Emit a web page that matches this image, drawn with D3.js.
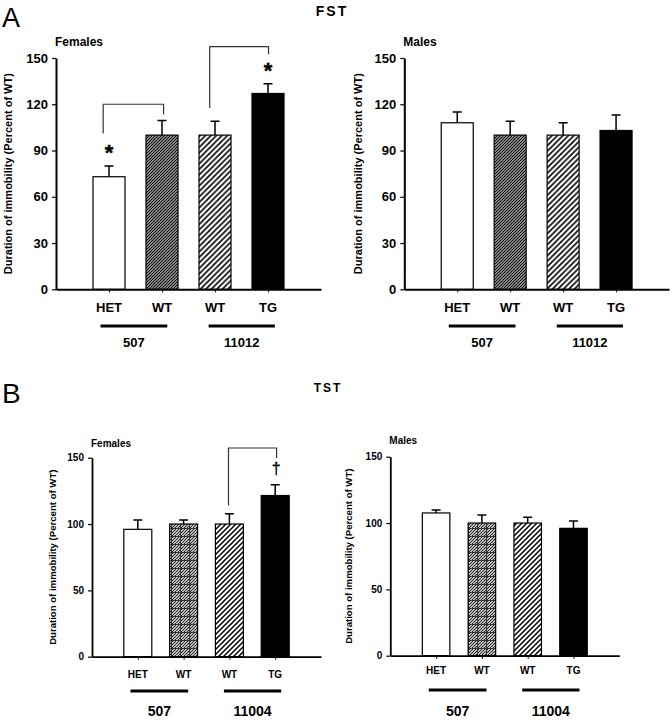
<!DOCTYPE html>
<html><head><meta charset="utf-8">
<script src="https://cdn.jsdelivr.net/npm/d3@7"></script>
<style>body{margin:0;background:#fff}svg{display:block;font-family:"Liberation Sans",Arial,sans-serif}</style>
</head><body>
<svg id="c" width="672" height="720"></svg>
<script>
// ---- data ----
const categories = ["HET","WT","WT","TG"];
const groups = ["507","11012"];
const groupsB = ["507","11004"];
const fstFemales = [73,100,100,127];
const fstFemalesErr = [80,109.5,109,133.3];
const fstMales = [108,100,100,103];
const fstMalesErr = [115,109,108,113];
const tstFemales = [96,100,100,121.5];
const tstFemalesErr = [103,103,107.7,129.6];
const tstMales = [107.6,100,100,96];
const tstMalesErr = [109.8,106,104.3,101.5];
const ticksA = [0,30,60,90,120,150];
const ticksB = [0,50,100,150];
// significance brackets: [xLeft, xRight (bar index units), top, leftFoot, rightFoot]
const bracketsFSTF = [[0.89,2.03,120,101,113.5],[2.9,4.01,157.4,117.6,152.5]];
const marksFSTF = [{x:1,y:91.6,t:"*"},{x:4,y:144.8,t:"*"}];
const bracketsTSTF = [[2.98,4.03,157.3,114,149.8]];
const marksTSTF = [{x:4.02,y:141,t:"†"}];

const svg = d3.select("#c");
const defs = svg.append("defs");
function hatch(id, size, bg, sw){
  const p = defs.append("pattern").attr("id",id).attr("patternUnits","userSpaceOnUse")
    .attr("width",size).attr("height",size);
  p.append("rect").attr("width",size).attr("height",size).attr("fill",bg);
  p.append("path").attr("d",`M${-size},${size} L${size},${-size} M0,${2*size} L${2*size},0 M${-size},${2*size} L${2*size},${-size}`)
    .attr("stroke","#000").attr("stroke-width",sw);
}
hatch("hA507",3,"#c0c0c0",1.15);
hatch("hA110",5.5,"#fff",1.6);
hatch("hB110",5,"#fff",1.5);
{
  const p = defs.append("pattern").attr("id","hB507").attr("patternUnits","userSpaceOnUse").attr("width",9).attr("height",8);
  p.append("rect").attr("width",9).attr("height",8).attr("fill","#c0c0c0");
  p.append("path").attr("d","M-3,3 L3,-3 M-3,6 L6,-3 M-3,9 L9,-3 M0,9 L9,0 M3,9 L12,0 M6,9 L12,3")
    .attr("stroke","#222").attr("stroke-width",1);
  p.append("path").attr("d","M0,0.5 H9 M0.5,0 V8").attr("stroke","#333").attr("stroke-width",1);
}

function panel(cfg){
  const {x0,x1,yTop,yBot,vals,errs,ticks,fills,bw,title,titleY,titleSize,ylabX,ylabSize,tickSize,
         labSize,labY,grpY,grpLabY,grpSize,grpNames,axW,brackets,marks} = cfg;
  const x = d3.scaleLinear().domain([0,5]).range([x0,x1]);
  const y = d3.scaleLinear().domain([0,150]).range([yBot,yTop]);
  const g = svg.append("g");
  g.selectAll("rect.bar").data(vals).join("rect")
    .attr("x",(d,i)=>x(i+1)-bw/2).attr("width",bw)
    .attr("y",d=>y(d)).attr("height",d=>y(0)-y(d))
    .attr("fill",(d,i)=>fills[i]).attr("stroke","#000").attr("stroke-width",1.2);
  g.selectAll("path.err").data(errs).join("path")
    .attr("d",(d,i)=>`M${x(i+1)},${y(vals[i])} V${y(d)} M${x(i+1)-4.5},${y(d)} H${x(i+1)+4.5}`)
    .attr("stroke","#000").attr("stroke-width",1.5).attr("fill","none");
  const ya = g.append("g").attr("transform",`translate(${x0},0)`)
    .call(d3.axisLeft(y).tickValues(ticks).tickSize(4).tickPadding(4).tickSizeOuter(0));
  ya.select(".domain").attr("stroke-width",axW);
  ya.selectAll(".tick line").attr("stroke-width",1.2);
  ya.selectAll("text").attr("font-size",tickSize).attr("font-weight","bold").attr("fill","#000")
    .attr("font-family","'Liberation Sans',Arial,sans-serif");
  const xa = g.append("g").attr("transform",`translate(0,${yBot})`)
    .call(d3.axisBottom(x).tickValues([1,2,3,4]).tickSize(3).tickFormat("").tickSizeOuter(0));
  xa.select(".domain").attr("stroke-width",axW);
  g.selectAll("text.cat").data(categories).join("text")
    .attr("x",(d,i)=>x(i+1)).attr("y",labY).attr("text-anchor","middle")
    .attr("font-size",labSize).attr("font-weight","bold").text(d=>d);
  const spans = [[0.84,2.1],[2.88,4.13]];
  g.selectAll("line.grp").data(spans).join("line")
    .attr("x1",d=>x(d[0])).attr("x2",d=>x(d[1])).attr("y1",grpY).attr("y2",grpY)
    .attr("stroke","#000").attr("stroke-width",3);
  g.selectAll("text.grp").data(grpNames).join("text")
    .attr("x",(d,i)=>x((spans[i][0]+spans[i][1])/2)).attr("y",grpLabY).attr("text-anchor","middle")
    .attr("font-size",grpSize).attr("font-weight","bold").text(d=>d);
  g.append("text").attr("x",x0-1).attr("y",titleY).attr("font-size",titleSize).attr("font-weight","bold").text(title);
  g.append("text").attr("transform",`translate(${ylabX},${(yTop+yBot)/2}) rotate(-90)`)
    .attr("text-anchor","middle").attr("dominant-baseline","middle")
    .attr("font-size",ylabSize).attr("font-weight","bold").text("Duration of immobility (Percent of WT)");
  (brackets||[]).forEach(b=>{
    g.append("path").attr("d",`M${x(b[0])},${y(b[3])} V${y(b[2])} H${x(b[1])} V${y(b[4])}`)
      .attr("fill","none").attr("stroke","#333").attr("stroke-width",1.2);
  });
  (marks||[]).forEach(m=>{
    g.append("text").attr("x",x(m.x)).attr("y",y(m.y)).attr("text-anchor","middle")
      .attr("dominant-baseline","middle").attr("font-size",m.t==="*"?22:16).attr("fill","#000")
      .attr("stroke","#000").attr("stroke-width",m.t==="*"?0.4:0.3)
      .attr("font-family","'Liberation Sans',Arial,sans-serif")
      .attr("font-weight",m.t==="*"?"bold":"normal").attr("dy",m.t==="*"?"0.3em":"0").text(m.t);
  });
}

svg.append("text").attr("x",2).attr("y",27).attr("font-size",27).text("A");
svg.append("text").attr("x",2).attr("y",403).attr("font-size",28).text("B");
svg.append("text").attr("x",332).attr("y",16).attr("text-anchor","middle").attr("font-size",14)
  .attr("font-weight","bold").attr("letter-spacing",2).text("FST");
svg.append("text").attr("x",328).attr("y",392).attr("text-anchor","middle").attr("font-size",12)
  .attr("font-weight","bold").attr("letter-spacing",2).text("TST");

const fillsA = ["#fff","url(#hA507)","url(#hA110)","#000"];
const fillsB = ["#fff","url(#hB507)","url(#hB110)","#000"];
panel({x0:56,x1:321,yTop:58,yBot:289.3,vals:fstFemales,errs:fstFemalesErr,ticks:ticksA,fills:fillsA,bw:32,
  title:"Females",titleY:46,titleSize:12,ylabX:9,ylabSize:11,tickSize:13,labSize:13,labY:312,grpY:326,grpLabY:347,grpSize:13,
  grpNames:groups,axW:2,brackets:bracketsFSTF,marks:marksFSTF});
panel({x0:404.3,x1:669,yTop:58,yBot:289.3,vals:fstMales,errs:fstMalesErr,ticks:ticksA,fills:fillsA,bw:32,
  title:"Males",titleY:46,titleSize:12,ylabX:359,ylabSize:11,tickSize:13,labSize:13,labY:312,grpY:326,grpLabY:347,grpSize:13,
  grpNames:groups,axW:2});
panel({x0:92,x1:321,yTop:457.7,yBot:656.7,vals:tstFemales,errs:tstFemalesErr,ticks:ticksB,fills:fillsB,bw:28,
  title:"Females",titleY:446.7,titleSize:10,ylabX:53,ylabSize:9.6,tickSize:10,labSize:10,labY:678,grpY:691,grpLabY:716,grpSize:14,
  grpNames:groupsB,axW:1.8,brackets:bracketsTSTF,marks:marksTSTF});
panel({x0:390.3,x1:619.3,yTop:456.7,yBot:655.7,vals:tstMales,errs:tstMalesErr,ticks:ticksB,fills:fillsB,bw:27.5,
  title:"Males",titleY:444,titleSize:10,ylabX:349,ylabSize:9.6,tickSize:10,labSize:10,labY:674,grpY:690,grpLabY:716,grpSize:14,
  grpNames:groupsB,axW:1.8});
</script>
</body></html>
